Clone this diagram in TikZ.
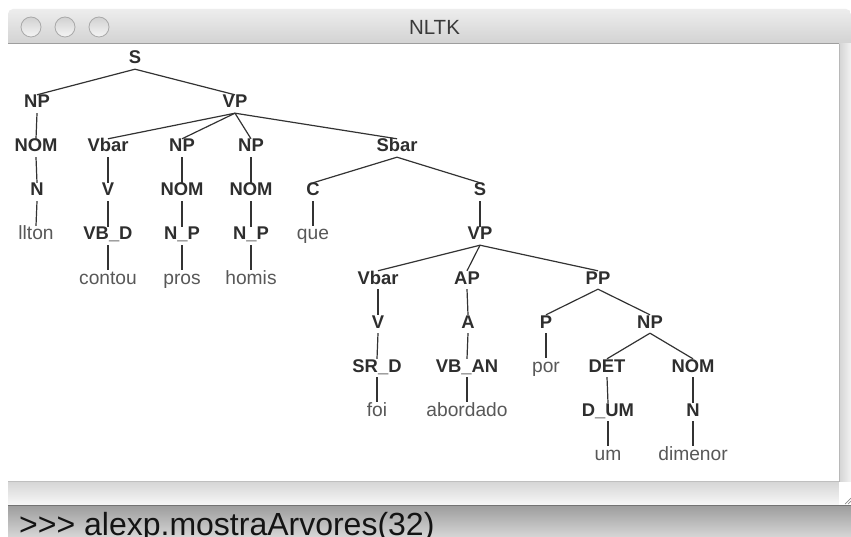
\documentclass[tikz,border=0pt]{standalone}
\usepackage{fontspec}
\setmainfont{Liberation Sans}
\definecolor{catgray}{HTML}{2E2E2E}
\definecolor{wordgray}{HTML}{585858}
\definecolor{linegray}{HTML}{333333}
\definecolor{tbtop}{HTML}{EDEDED}
\definecolor{tbbot}{HTML}{D3D3D3}
\definecolor{tbline}{HTML}{9E9E9E}
\definecolor{btnedge}{HTML}{A9A9A9}
\definecolor{titlegray}{HTML}{3A3A3A}
\definecolor{termtop}{HTML}{9C9C9C}
\definecolor{termbot}{HTML}{D6D6D6}
\begin{document}
\begin{tikzpicture}[x=1pt,y=-1pt,
  cat/.style={anchor=base,inner sep=0pt,text height=13pt,text depth=0pt,
    font=\bfseries\fontsize{18.4}{20}\selectfont,text=catgray},
  word/.style={anchor=base,inner sep=0pt,text height=14pt,text depth=4pt,
    font=\fontsize{19.2}{21}\selectfont,text=wordgray},
  branch/.style={draw=linegray,line width=1.2pt}]
\useasboundingbox (0,0) rectangle (851,537);
\fill[white] (0,0) rectangle (851,537);

% window title bar
\shade[top color=tbtop,bottom color=tbbot]
  (8,43) [rounded corners=5pt] -- (8,9) -- (851,9) [sharp corners] -- (851,43) -- cycle;
\draw[tbline,line width=1pt] (8,43.5) -- (851,43.5);
\foreach \bx in {31,65,99}
  \path[draw=btnedge,line width=0.8pt,top color=black!18,bottom color=black!4] (\bx,27) circle (10);
\node[font=\fontsize{20.5}{22}\selectfont,text=titlegray] (title) at (434.5,27) {NLTK};

% scroll bars and resize corner
\shade[left color=black!17,right color=black!5] (839,44) rectangle (851,482);
\draw[black!28,line width=0.8pt] (839.4,44) -- (839.4,482);
\shade[top color=black!16,bottom color=black!3] (8,482) rectangle (839,505);
\draw[black!25,line width=0.8pt] (8,481.6) -- (839,481.6);
\fill[white] (839,482) rectangle (851,505);
\draw[black!45,line width=0.7pt] (845,504) -- (851,498) (848,504) -- (851,501);

% terminal strip
\shade[top color=termtop,bottom color=termbot] (8,505) rectangle (851,537);
\draw[black!55,line width=1pt] (8,505.5) -- (851,505.5);
\node[anchor=base west,inner sep=0pt,font=\fontsize{32}{34}\selectfont,text=black!92]
  (prompt) at (19,535) {>{}>{}> alexp.mostraArvores(32)};

% parse tree
\node[cat] (s0) at (135,64) {S};
\node[cat] (np1) at (37,108) {NP};
\node[cat] (vp1) at (235,108) {VP};
\node[cat] (nom2a) at (36,152) {NOM};
\node[cat] (vbar2) at (108,152) {Vbar};
\node[cat] (np2b) at (182,152) {NP};
\node[cat] (np2c) at (251,152) {NP};
\node[cat] (sbar2) at (397,152) {Sbar};
\node[cat] (n3) at (37,196) {N};
\node[cat] (v3) at (108,196) {V};
\node[cat] (nom3b) at (182,196) {NOM};
\node[cat] (nom3c) at (251,196) {NOM};
\node[cat] (c3) at (313,196) {C};
\node[cat] (s3) at (480,196) {S};
\node[word] (wllton) at (36,240) {llton};
\node[cat] (vbd4) at (108,240) {VB\_D};
\node[cat] (np4b) at (182,240) {N\_P};
\node[cat] (np4c) at (251,240) {N\_P};
\node[word] (wque) at (313,240) {que};
\node[cat] (vp4) at (480,240) {VP};
\node[word] (wcontou) at (108,284) {contou};
\node[word] (wpros) at (182,284) {pros};
\node[word] (whomis) at (251,284) {homis};
\node[cat] (vbar5) at (378,284) {Vbar};
\node[cat] (ap5) at (467,284) {AP};
\node[cat] (pp5) at (598,284) {PP};
\node[cat] (v6) at (378,328) {V};
\node[cat] (a6) at (468,328) {A};
\node[cat] (p6) at (546,328) {P};
\node[cat] (np6) at (650,328) {NP};
\node[cat] (srd7) at (377,372) {SR\_D};
\node[cat] (vban7) at (467,372) {VB\_AN};
\node[word] (wpor) at (546,372) {por};
\node[cat] (det7) at (607,372) {DET};
\node[cat] (nom7) at (693,372) {NOM};
\node[word] (wfoi) at (377,416) {foi};
\node[word] (wabordado) at (467,416) {abordado};
\node[cat] (dum8) at (608,416) {D\_UM};
\node[cat] (n8) at (693,416) {N};
\node[word] (wum) at (608,460) {um};
\node[word] (wdimenor) at (693,460) {dimenor};

\foreach \p/\c in {s0/np1,s0/vp1,np1/nom2a,nom2a/n3,n3/wllton,
    vp1/vbar2,vp1/np2b,vp1/np2c,vp1/sbar2,
    vbar2/v3,v3/vbd4,vbd4/wcontou,
    np2b/nom3b,nom3b/np4b,np4b/wpros,
    np2c/nom3c,nom3c/np4c,np4c/whomis,
    sbar2/c3,sbar2/s3,c3/wque,s3/vp4,
    vp4/vbar5,vp4/ap5,vp4/pp5,
    vbar5/v6,v6/srd7,srd7/wfoi,
    ap5/a6,a6/vban7,vban7/wabordado,
    pp5/p6,pp5/np6,p6/wpor,
    np6/det7,np6/nom7,det7/dum8,dum8/wum,nom7/n8,n8/wdimenor}
  \draw[branch] ([yshift=-5pt]\p.south) -- (\c.north);
\end{tikzpicture}
\end{document}
